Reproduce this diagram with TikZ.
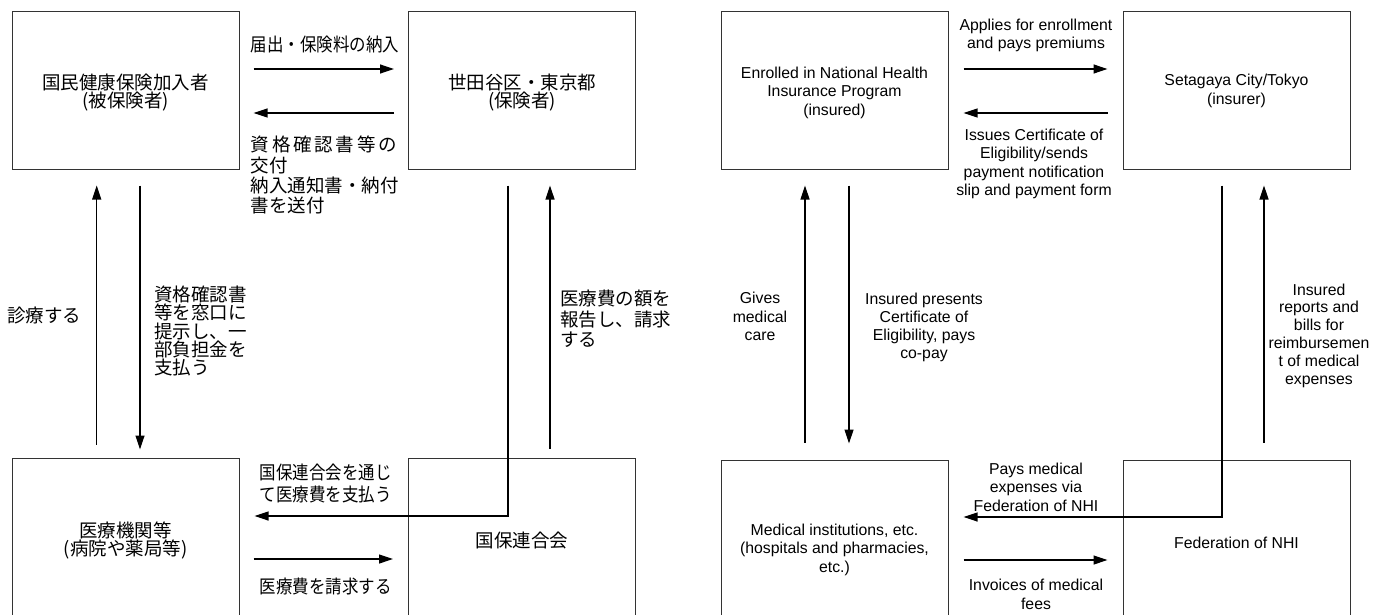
\documentclass[tikz,border=0pt]{standalone}
\usepackage{fontspec}
\setmainfont{Liberation Sans}
\newfontfamily\jp{Noto Sans CJK JP}
\newfontfamily\jpc[FakeStretch=0.89]{Noto Sans CJK JP}
\usetikzlibrary{arrows.meta,calc}
\begin{document}
\begin{tikzpicture}[x=1pt,y=-1pt,
  box/.style={draw=black!80, line width=1pt, minimum width=227pt, minimum height=158pt, inner sep=0pt},
  arr/.style={draw=black, line width=1.2pt, -{Triangle[length=14pt,width=9pt]}},
  txt/.style={inner sep=0pt, yshift=-1.5pt},
  en/.style={txt, font=\fontsize{15.8}{18.5}\selectfont, align=center},
  ja/.style={txt, font=\jp\fontsize{18.5}{18.3}\selectfont, align=center},
  jal/.style={txt, font=\jp\fontsize{18.5}{18.2}\selectfont, align=left, anchor=west},
  jac/.style={txt, font=\jpc\fontsize{18.5}{21.7}\selectfont, align=left, anchor=west}
]
\useasboundingbox (0,0) rectangle (1387,615);
\clip (0,0) rectangle (1387,615);

% ---------- left diagram (Japanese) ----------
\node[box] (A) at (125.5,91) {};
\node[box] (B) at (522,91) {};
\node[box] (C) at (125.5,537) {};
\node[box] (D) at (522,537) {};
\node[ja] (At) at (A) {国民健康保険加入者\\(被保険者)};
\node[ja] (Bt) at (B) {世田谷区・東京都\\(保険者)};
\node[ja] (Ct) at ($(C)+(0,2)$) {医療機関等\\(病院や薬局等)};
\node[ja] (Dt) at ($(D)+(0,2)$) {国保連合会};

\coordinate (h1) at (0,69);
\coordinate (h2) at (0,113);
\coordinate (h5) at (0,516);
\coordinate (h7) at (0,559);
\coordinate (v1) at (96.7,0);
\coordinate (v2) at (140,0);
\coordinate (v5) at (508,0);
\coordinate (v6) at (550,0);

\draw[arr, shorten <=14pt, shorten >=14pt] (A.east |- h1) -- (B.west |- h1);
\draw[arr, shorten <=14pt, shorten >=14pt] (B.west |- h2) -- (A.east |- h2);
\draw[arr, shorten <=13pt, shorten >=15pt] (C.north -| v1) -- (A.south -| v1);
\draw[arr, shorten <=15pt, shorten >=8pt] (A.south -| v2) -- (C.north -| v2);
\draw[arr, shorten <=15pt, shorten >=15pt] (B.south -| v5) |- (C.east |- h5);
\draw[arr, shorten <=9pt, shorten >=15pt] (D.north -| v6) -- (B.south -| v6);
\draw[arr, shorten <=14pt, shorten >=15pt] (C.east |- h7) -- (D.west |- h7);

\node[jac] (l1) at (250.7,43) {届出・保険料の納入};
\node[jal, font=\jp\fontsize{18.5}{20.3}\selectfont] (l2) at (250.7,173.7)
  {\makebox[146pt][s]{資\hfil 格\hfil 確\hfil 認\hfil 書\hfil 等\hfil の}\\交付\\納入通知書・納付\\書を送付};
\node[ja, anchor=west] (l3) at (7,314) {診療する};
\node[jal] (l4) at (154,329.5) {資格確認書\\等を窓口に\\提示し、一\\部負担金を\\支払う};
\node[jal, font=\jp\fontsize{18.5}{20.5}\selectfont] (l5) at (560,317.5) {医療費の額を\\報告し、請求\\する};
\node[jac] (l6) at (259.6,482) {国保連合会を通じ\\て医療費を支払う};
\node[jac] (l7) at (259.6,585) {医療費を請求する};

% ---------- right diagram (English) ----------
\node[box] (E) at (834.5,91) {};
\node[box] (F) at (1236.5,91) {};
\node[box] (G) at (834.5,539) {};
\node[box] (H) at (1236.5,539) {};
\node[en] (Et) at (E) {Enrolled in National Health\\Insurance Program\\(insured)};
\node[en] (Ft) at ($(F)+(0,-1.5)$) {Setagaya City/Tokyo\\(insurer)};
\node[en] (Gt) at ($(G)+(0,9)$) {Medical institutions, etc.\\(hospitals and pharmacies,\\etc.)};
\node[en] (Ht) at ($(H)+(0,2)$) {Federation of NHI};

\coordinate (k5) at (0,517);
\coordinate (k7) at (0,560);
\coordinate (w1) at (805,0);
\coordinate (w2) at (849,0);
\coordinate (w5) at (1222,0);
\coordinate (w6) at (1264,0);

\draw[arr, shorten <=15pt, shorten >=15pt] (E.east |- h1) -- (F.west |- h1);
\draw[arr, shorten <=15pt, shorten >=15pt] (F.west |- h2) -- (E.east |- h2);
\draw[arr, shorten <=17pt, shorten >=15pt] (G.north -| w1) -- (E.south -| w1);
\draw[arr, shorten <=15pt, shorten >=16pt] (E.south -| w2) -- (G.north -| w2);
\draw[arr, shorten <=15pt, shorten >=15pt] (F.south -| w5) |- (G.east |- k5);
\draw[arr, shorten <=17pt, shorten >=15pt] (H.north -| w6) -- (F.south -| w6);
\draw[arr, shorten <=15pt, shorten >=15pt] (G.east |- k7) -- (H.west |- k7);

\node[en] (m1) at (1036,34) {Applies for enrollment\\and pays premiums};
\node[en, font=\fontsize{15.8}{18.3}\selectfont] (m2) at (1034,162.5) {Issues Certificate of\\Eligibility/sends\\payment notification\\slip and payment form};
\node[en] (m3) at (760,315) {Gives\\medical\\care};
\node[en, font=\fontsize{15.8}{18}\selectfont] (m4) at (924,326) {Insured presents\\Certificate of\\Eligibility, pays\\co-pay};
\node[en, font=\fontsize{15.8}{17.8}\selectfont] (m5) at (1319,334) {Insured\\reports and\\bills for\\reimbursemen\\t of medical\\expenses};
\node[en] (m6) at (1036,485.5) {Pays medical\\expenses via\\Federation of NHI};
\node[en] (m7) at (1036,593) {Invoices of medical\\fees};
\end{tikzpicture}
\end{document}
